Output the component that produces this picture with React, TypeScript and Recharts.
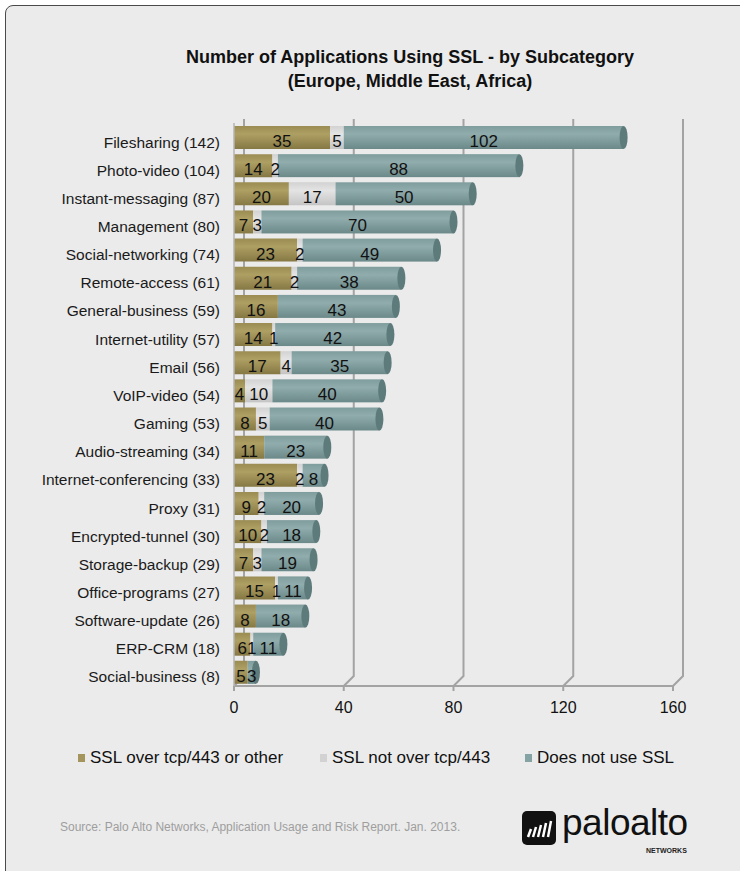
import { BarChart, Bar, XAxis, YAxis, CartesianGrid, LabelList } from "recharts";

const categories = [
  "Filesharing (142)",
  "Photo-video (104)",
  "Instant-messaging (87)",
  "Management (80)",
  "Social-networking (74)",
  "Remote-access (61)",
  "General-business (59)",
  "Internet-utility (57)",
  "Email (56)",
  "VoIP-video (54)",
  "Gaming (53)",
  "Audio-streaming (34)",
  "Internet-conferencing (33)",
  "Proxy (31)",
  "Encrypted-tunnel (30)",
  "Storage-backup (29)",
  "Office-programs (27)",
  "Software-update (26)",
  "ERP-CRM (18)",
  "Social-business (8)",
];
const sslOther = [35, 14, 20, 7, 23, 21, 16, 14, 17, 4, 8, 11, 23, 9, 10, 7, 15, 8, 6, 5];
const sslNot443 = [5, 2, 17, 3, 2, 2, 0, 1, 4, 10, 5, 0, 2, 2, 2, 3, 1, 0, 1, 0];
const noSsl = [102, 88, 50, 70, 49, 38, 43, 42, 35, 40, 40, 23, 8, 20, 18, 19, 11, 18, 11, 3];
const xTicks = [0, 40, 80, 120, 160];

const seriesNames = ["SSL over tcp/443 or other", "SSL not over tcp/443", "Does not use SSL"];
const seriesColors = ["#a3955c", "#d2d2d2", "#86a3a4"];

const data = categories.map((name, i) => ({
  name,
  a: sslOther[i],
  b: sslNot443[i],
  c: noSsl[i],
}));

const FONT = "'Liberation Sans', Arial, sans-serif";

// value inside each segment, zeros skipped
const renderLabel = (p: any) => {
  const { x, y, width, height, value } = p;
  if (!value) return null;
  return (
    <text
      x={x + width / 2}
      y={y + height / 2 + 4}
      textAnchor="middle"
      dominantBaseline="central"
      fontSize={17}
      fontFamily={FONT}
      fill="#111"
    >
      {value}
    </text>
  );
};

// last segment gets the cylinder end cap
const CapBar = (p: any) => {
  const { x, y, width, height, fill } = p;
  if (!width) return null;
  return (
    <g>
      <rect x={x} y={y} width={width} height={height} fill={fill} />
      <ellipse cx={x + width} cy={y + height / 2} rx={4} ry={height / 2} fill="#5e7b7c" />
    </g>
  );
};

const GridLine = (p: any) => {
  const { x1, y1, y2 } = p;
  return (
    <path
      key={p.key}
      d={`M${x1},${y2} L${x1 + 10},${y2 - 10} L${x1 + 10},${y1 - 4}`}
      stroke="#a3a3a3"
      strokeWidth={2}
      fill="none"
    />
  );
};

const CategoryTick = (p: any) => {
  const { x, y, payload } = p;
  return (
    <text
      x={x}
      y={y + 5}
      textAnchor="end"
      dominantBaseline="central"
      fontSize={15.5}
      fontFamily={FONT}
      fill="#1a1a1a"
    >
      {payload.value}
    </text>
  );
};

const Logo = () => (
  <div style={{ position: "absolute", left: 522, top: 808, width: 180, height: 50 }}>
    <div
      style={{
        position: "absolute",
        left: 0,
        top: 3,
        width: 34,
        height: 34,
        background: "#111",
        borderRadius: 5,
        overflow: "hidden",
      }}
    >
      <svg width={34} height={34}>
        {[0, 1, 2, 3, 4].map((k) => (
          <line
            key={k}
            x1={6 + k * 5}
            y1={26}
            x2={9 + k * 5}
            y2={18 - k * 2}
            stroke="#fff"
            strokeWidth={2.5}
          />
        ))}
      </svg>
    </div>
    <div
      style={{
        position: "absolute",
        left: 40,
        top: -6,
        fontFamily: FONT,
        fontSize: 37,
        color: "#111",
        letterSpacing: -0.5,
      }}
    >
      paloalto
    </div>
    <div
      style={{
        position: "absolute",
        left: 124,
        top: 39,
        fontFamily: FONT,
        fontSize: 7,
        fontWeight: "bold",
        color: "#222",
      }}
    >
      NETWORKS
    </div>
  </div>
);

export default function App() {
  return (
    <div
      style={{
        position: "fixed",
        left: 0,
        top: 0,
        width: 740,
        height: 871,
        overflow: "hidden",
        background: "#fff",
      }}
    >
      <div
        style={{
          position: "absolute",
          left: 5,
          top: 5,
          width: 780,
          height: 900,
          border: "1.5px solid #4a4a4a",
          borderRadius: 8,
          background: "#ebebeb",
        }}
      />
      <div
        style={{
          position: "absolute",
          left: 100,
          top: 45,
          width: 620,
          textAlign: "center",
          fontFamily: FONT,
          fontWeight: "bold",
          fontSize: 18,
          lineHeight: "24px",
          color: "#111",
        }}
      >
        Number of Applications Using SSL - by Subcategory
        <br />
        (Europe, Middle East, Africa)
      </div>
      <div style={{ position: "absolute", left: 0, top: 0 }}>
        <BarChart
          width={740}
          height={726}
          data={data}
          layout="vertical"
          barSize={23}
          margin={{ top: 123, right: 67, bottom: 0, left: 0 }}
        >
          <defs>
            <linearGradient id="gGold" x1="0" y1="0" x2="0" y2="1">
              <stop offset="0%" stopColor="#9a8c52" />
              <stop offset="35%" stopColor="#ae9f63" />
              <stop offset="100%" stopColor="#857843" />
            </linearGradient>
            <linearGradient id="gGray" x1="0" y1="0" x2="0" y2="1">
              <stop offset="0%" stopColor="#d2d2d2" />
              <stop offset="35%" stopColor="#e4e4e4" />
              <stop offset="100%" stopColor="#c4c4c4" />
            </linearGradient>
            <linearGradient id="gTeal" x1="0" y1="0" x2="0" y2="1">
              <stop offset="0%" stopColor="#809d9e" />
              <stop offset="35%" stopColor="#90acad" />
              <stop offset="100%" stopColor="#6c898a" />
            </linearGradient>
          </defs>
          <CartesianGrid horizontal={false} vertical={GridLine} />
          <XAxis
            type="number"
            domain={[0, 160]}
            ticks={xTicks}
            interval={0}
            height={40}
            tickSize={5}
            tickMargin={11}
            axisLine={{ stroke: "#a3a3a3", strokeWidth: 2 }}
            tickLine={{ stroke: "#a3a3a3", strokeWidth: 2 }}
            tick={{ fontSize: 16, fill: "#111", fontFamily: FONT }}
          />
          <YAxis
            type="category"
            dataKey="name"
            width={234}
            interval={0}
            tickLine={false}
            tickMargin={8}
            axisLine={{ stroke: "#b5b5b5", strokeWidth: 1.5 }}
            tick={CategoryTick}
          />
          <Bar dataKey="a" stackId="s" fill="url(#gGold)" isAnimationActive={false}>
            <LabelList dataKey="a" content={renderLabel} />
          </Bar>
          <Bar dataKey="b" stackId="s" fill="url(#gGray)" isAnimationActive={false}>
            <LabelList dataKey="b" content={renderLabel} />
          </Bar>
          <Bar dataKey="c" stackId="s" fill="url(#gTeal)" shape={CapBar} isAnimationActive={false}>
            <LabelList dataKey="c" content={renderLabel} />
          </Bar>
        </BarChart>
      </div>
      <div
        style={{
          position: "absolute",
          top: 748,
          left: 0,
          width: 740,
          fontFamily: FONT,
          fontSize: 17,
          color: "#111",
        }}
      >
        {seriesNames.map((n, i) => (
          <div
            key={n}
            style={{
              position: "absolute",
              left: [78, 320, 525][i],
              display: "flex",
              alignItems: "center",
              whiteSpace: "nowrap",
            }}
          >
            <span
              style={{
                display: "inline-block",
                width: 7,
                height: 8,
                background: seriesColors[i],
                marginRight: 5,
              }}
            />
            {n}
          </div>
        ))}
      </div>
      <div
        style={{
          position: "absolute",
          left: 60,
          top: 820,
          fontFamily: FONT,
          fontSize: 12,
          color: "#9e9e9e",
          whiteSpace: "nowrap",
        }}
      >
        Source: Palo Alto Networks, Application Usage and Risk Report. Jan. 2013.
      </div>
      <Logo />
    </div>
  );
}
